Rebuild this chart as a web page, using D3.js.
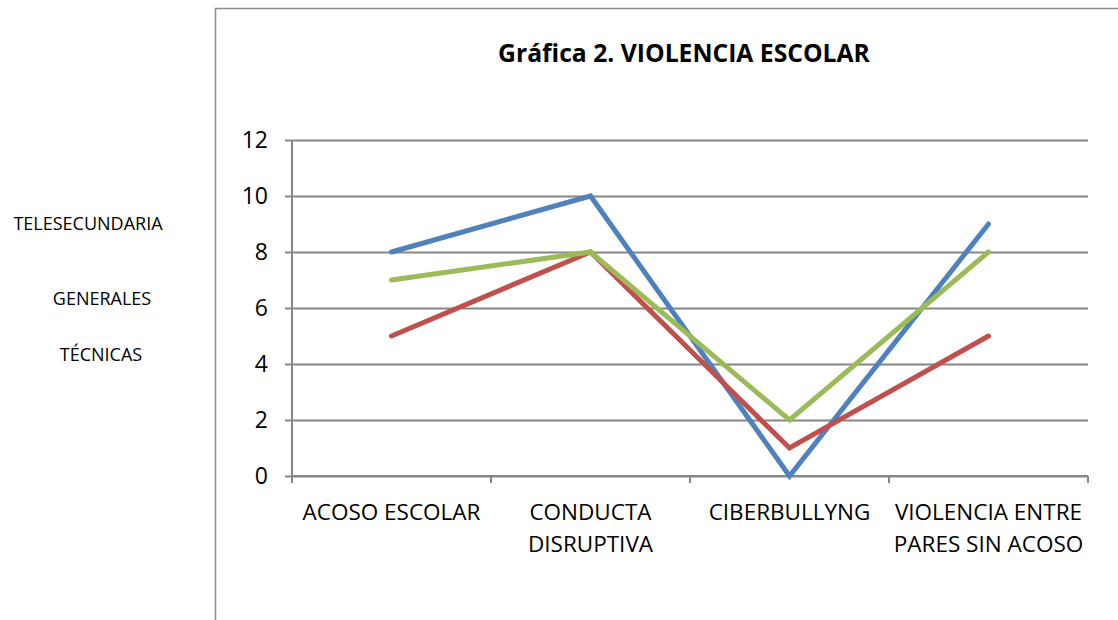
<!DOCTYPE html>
<html>
<head>
<meta charset="utf-8">
<script src="https://cdn.jsdelivr.net/npm/d3@7"></script>
<style>
  html, body { margin: 0; background: #fff; overflow: hidden; }
  svg { display: block; }
  text { font-family: "Open Sans", sans-serif; fill: #000; }
</style>
</head>
<body>
<svg width="1118" height="620"></svg>
<script>
const categories = [['ACOSO ESCOLAR'], ['CONDUCTA', 'DISRUPTIVA'], ['CIBERBULLYNG'], ['VIOLENCIA ENTRE', 'PARES SIN ACOSO']]
const seriesNames = ['TELESECUNDARIA', 'GENERALES', 'TÉCNICAS']
const telesecundaria = [8, 10, 0, 9]
const generales = [5, 8, 1, 5]
const tecnicas = [7, 8, 2, 8]
const yTicks = [0, 2, 4, 6, 8, 10, 12]

const colors = ['#4f81bd', '#c0504d', '#9bbb59']
const series = [telesecundaria, generales, tecnicas]

const svg = d3.select('svg')

// outer chart frame (right side runs off the page)
svg.append('path')
  .attr('d', 'M215.5,620 V8.5 H1118')
  .attr('fill', 'none')
  .attr('stroke', '#8c8c8c')
  .attr('stroke-width', 1.5)

svg.append('text')
  .attr('x', 684)
  .attr('y', 62)
  .attr('text-anchor', 'middle')
  .style('font-weight', 'bold')
  .style('font-size', '24.7px')
  .text('Gráfica 2. VIOLENCIA ESCOLAR')

// series names on the left (no markers, as in the original)
const legendPos = [[88, 230], [102, 305], [101, 361]]
svg.selectAll('.lg').data(seriesNames).enter().append('text')
  .attr('class', 'lg')
  .attr('x', (d, i) => legendPos[i][0])
  .attr('y', (d, i) => legendPos[i][1])
  .attr('text-anchor', 'middle')
  .style('font-size', '18px')
  .text(d => d)

const margin = { left: 292, right: 30, top: 140, bottom: 144 }
const innerWidth = 1118 - margin.left - margin.right
const innerHeight = 620 - margin.top - margin.bottom

const g = svg.append('g').attr('transform', `translate(${margin.left},${margin.top})`)

const xScale = d3.scaleBand()
  .domain(d3.range(categories.length))
  .range([0, innerWidth])

const yScale = d3.scaleLinear()
  .domain([0, 12])
  .range([innerHeight, 0])

// gridlines + y axis
const yAxis = d3.axisLeft(yScale).tickValues(yTicks).tickSize(-innerWidth).tickPadding(24)
const yAxisG = g.append('g').call(yAxis)
yAxisG.select('.domain').remove()
yAxisG.selectAll('.tick line').attr('stroke', '#868686').attr('stroke-width', 2)
yAxisG.selectAll('.tick text').style('font-size', '23px').style('font-family', '"Open Sans", sans-serif').attr('fill', '#000')
// small outer tick stubs
yAxisG.selectAll('.tick').append('line')
  .attr('x1', -7).attr('x2', 0)
  .attr('stroke', '#868686').attr('stroke-width', 2)

g.append('line')
  .attr('x1', 0).attr('x2', 0).attr('y1', 0).attr('y2', innerHeight + 7)
  .attr('stroke', '#868686').attr('stroke-width', 2)

// x axis with ticks at band boundaries
const xAxisG = g.append('g').attr('transform', `translate(0,${innerHeight})`)
xAxisG.append('line')
  .attr('x1', 0).attr('x2', innerWidth)
  .attr('stroke', '#868686').attr('stroke-width', 2)
const boundaries = d3.range(categories.length + 1).map(i => i * xScale.step())
xAxisG.selectAll('.xt').data(boundaries).enter().append('line')
  .attr('x1', d => d).attr('x2', d => d)
  .attr('y1', 0).attr('y2', 7)
  .attr('stroke', '#868686').attr('stroke-width', 2)

const labels = xAxisG.selectAll('.xl').data(categories).enter().append('text')
  .attr('text-anchor', 'middle')
  .attr('x', (d, i) => xScale(i) + xScale.bandwidth() / 2)
  .attr('y', 44)
  .style('font-size', '22.5px')
labels.selectAll('tspan').data(d => d).enter().append('tspan')
  .attr('x', function () { return this.parentNode.getAttribute('x') })
  .attr('dy', (d, i) => i === 0 ? 0 : 32)
  .text(d => d)

const line = d3.line()
  .x((d, i) => xScale(i) + xScale.bandwidth() / 2)
  .y(d => yScale(d))

g.selectAll('.series').data(series).enter().append('path')
  .attr('d', d => line(d))
  .attr('fill', 'none')
  .attr('stroke', (d, i) => colors[i])
  .attr('stroke-width', 5)
  .attr('stroke-linejoin', 'miter')
  .attr('stroke-linecap', 'round')
</script>
</body>
</html>
